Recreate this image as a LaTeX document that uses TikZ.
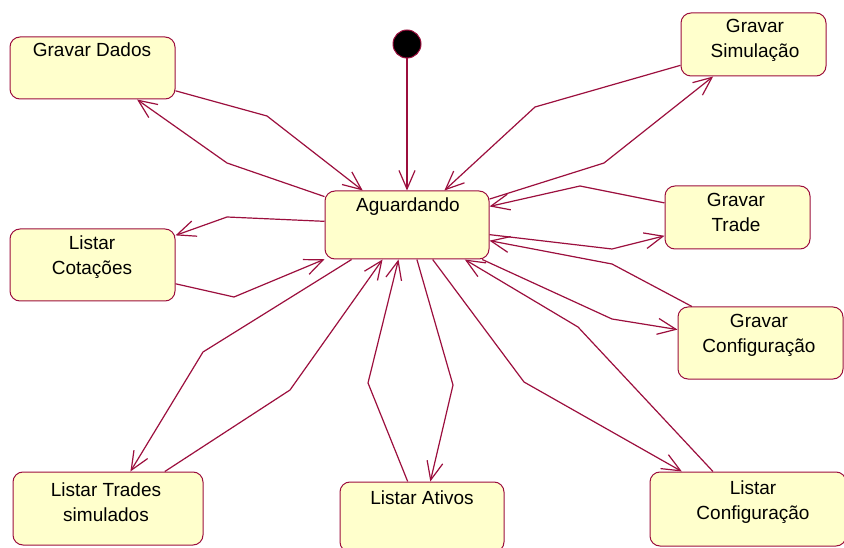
\documentclass[tikz,border=0pt]{standalone}
\usepackage{fontspec}
\setmainfont{Liberation Sans}
\usetikzlibrary{arrows.meta}
\definecolor{wire}{HTML}{9C0F3E}
\definecolor{statefill}{HTML}{FFFFCC}
\newcommand{\twoline}[2]{\begin{tabular}[t]{@{}c@{}}#1\\#2\end{tabular}}
\begin{document}
\begin{tikzpicture}[x=1pt,y=-1pt,
  state/.style={draw=wire, fill=statefill, rounded corners=10pt, line width=1pt, inner sep=0pt},
  txt/.style={anchor=base, inner sep=0pt, font=\fontsize{19}{25}\selectfont},
  flow/.style={draw=wire, line width=1.2pt, -{Straight Barb[length=18.5pt,width=16pt]}},
  initial/.style={circle, fill=black, draw=wire, line width=1pt, minimum size=28pt, inner sep=0pt}]
\useasboundingbox[fill=white] (0,0) rectangle (844,548);

% states
\node[initial] (dot) at (407,44) {};
\node[state, minimum width=165pt, minimum height=62pt] (dados)   at (92.5,68)  {};
\node[state, minimum width=164pt, minimum height=68pt] (aguard)  at (407,225)  {};
\node[state, minimum width=145pt, minimum height=63pt] (gsim)    at (753.5,44.5) {};
\node[state, minimum width=145pt, minimum height=63pt] (gtrade)  at (737.5,217.5) {};
\node[state, minimum width=165pt, minimum height=72pt] (cotac)   at (92.5,265) {};
\node[state, minimum width=165pt, minimum height=72pt] (gconf)   at (760.5,343) {};
\node[state, minimum width=190pt, minimum height=73pt] (ltrades) at (108,508.5) {};
\node[state, minimum width=164pt, minimum height=70pt] (lativos) at (422,517) {};
\node[state, minimum width=196pt, minimum height=74pt] (lconf)   at (748,509) {};

% state names
\node[txt] (dados-t)   at (92,57)   {Gravar Dados};
\node[txt] (aguard-t)  at (408,212) {Aguardando};
\node[txt] (gsim-t)    at (755,33)  {\twoline{Gravar}{Simulação}};
\node[txt] (gtrade-t)  at (736,207) {\twoline{Gravar}{Trade}};
\node[txt] (cotac-t)   at (92,250)  {\twoline{Listar}{Cotações}};
\node[txt] (gconf-t)   at (759,327) {\twoline{Gravar}{Configuração}};
\node[txt] (ltrades-t) at (106,496) {\twoline{Listar Trades}{simulados}};
\node[txt] (lativos-t) at (422,504) {Listar Ativos};
\node[txt] (lconf-t)   at (753,494) {\twoline{Listar}{Configuração}};

% transitions
\draw[flow] (dot) -- (aguard);
\draw[flow] (dados) -- (267,116) -- (aguard);
\draw[flow] (aguard) -- (227,163) -- (dados);
\draw[flow] (aguard) -- (227,217) -- (cotac);
\draw[flow] (cotac) -- (234,297) -- (aguard);
\draw[flow] (aguard) -- (203,352) -- (ltrades);
\draw[flow] (ltrades) -- (290,390) -- (aguard);
\draw[flow] (lativos) -- (368,383) -- (aguard);
\draw[flow] (aguard) -- (453,385) -- (lativos);
\draw[flow] (aguard) -- (524,382) -- (lconf);
\draw[flow] (lconf) -- (578,327) -- (aguard);
\draw[flow] (aguard) -- (612,319) -- (gconf);
\draw[flow] (gconf) -- (612,264) -- (aguard);
\draw[flow] (aguard) -- (612,249) -- (gtrade);
\draw[flow] (gtrade) -- (580,186) -- (aguard);
\draw[flow] (aguard) -- (604,163) -- (gsim);
\draw[flow] (gsim) -- (535,107) -- (aguard);
\end{tikzpicture}
\end{document}
